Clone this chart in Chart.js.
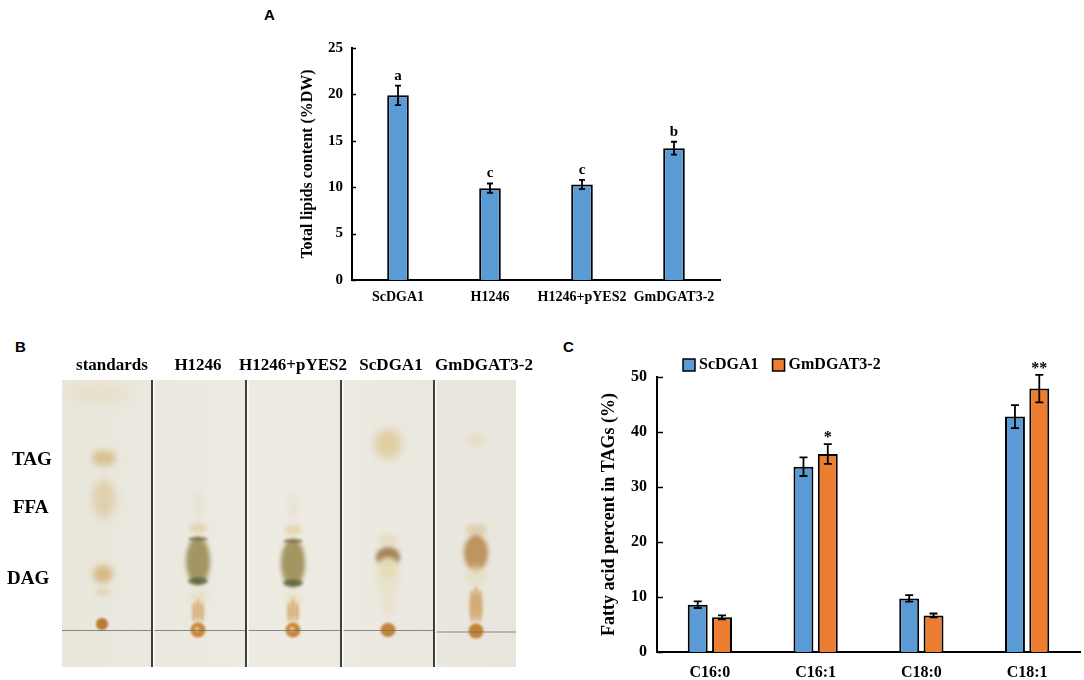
<!DOCTYPE html>
<html>
<head>
<meta charset="utf-8">
<script src="https://cdn.jsdelivr.net/npm/chart.js@4.4.1/dist/chart.umd.min.js"></script>
<style>
  body { margin: 0; background: #fff; width: 1084px; height: 680px; position: relative; overflow: hidden;
         font-family: "Liberation Serif", "Times New Roman", serif; }
  .abs { position: absolute; }
  .panel { font-family: "Liberation Sans", Arial, sans-serif; font-weight: bold; font-size: 15px; line-height: 18px; }
  .lane { font-weight: bold; font-size: 17px; line-height: 20px; transform: translateX(-50%); white-space: nowrap; }
  .band { font-weight: bold; font-size: 19px; line-height: 22px; }
</style>
</head>
<body>
<div class="abs panel" style="left:264px;top:6px">A</div>
<div class="abs panel" style="left:15px;top:338px">B</div>
<div class="abs panel" style="left:563px;top:338px">C</div>

<canvas id="tlc" class="abs" width="570" height="350" style="left:0;top:330px"></canvas>
<div id="tlcText"></div>

<canvas id="lipidChart" class="abs" width="440" height="290" style="left:290px;top:30px"></canvas>
<canvas id="faChart" class="abs" width="494" height="335" style="left:590px;top:345px"></canvas>

<script>
// Panel A: total lipids
const lipidStrains = ['ScDGA1', 'H1246', 'H1246+pYES2', 'GmDGAT3-2'];
const lipidContent = [19.9, 9.9, 10.3, 14.2];
const lipidError = [1.05, 0.5, 0.5, 0.7];
const lipidLetters = ['a', 'c', 'c', 'b'];

// Panel C: fatty acid composition of TAGs
const fattyAcids = ['C16:0', 'C16:1', 'C18:0', 'C18:1'];
const scdga1Percent = [8.6, 33.7, 9.75, 42.8];
const scdga1Error = [0.6, 1.7, 0.6, 2.1];
const gmdgatPercent = [6.3, 36.0, 6.65, 47.9];
const gmdgatError = [0.35, 1.8, 0.35, 2.5];
const gmdgatStars = ['', '*', '', '**'];

// Panel B: TLC plate labels
const tlcLanes = ['standards', 'H1246', 'H1246+pYES2', 'ScDGA1', 'GmDGAT3-2'];
const tlcBands = ['TAG', 'FFA', 'DAG'];

const BLUE = '#5b9bd5';
const ORANGE = '#ed7d31';

Chart.defaults.font.family = '"Liberation Serif", "Times New Roman", serif';
Chart.defaults.font.weight = 'bold';
Chart.defaults.color = '#000';

// error bars + significance marks, drawn from the data through the y scale
const errorBars = {
  id: 'errorBars',
  afterDatasetsDraw(chart, args, opts) {
    const ctx = chart.ctx;
    const y = chart.scales.y;
    chart.data.datasets.forEach((ds, i) => {
      const meta = chart.getDatasetMeta(i);
      meta.data.forEach((bar, j) => {
        const v = ds.data[j], e = ds.errors[j];
        const top = y.getPixelForValue(v + e);
        const bot = y.getPixelForValue(v - e);
        ctx.save();
        ctx.strokeStyle = '#000';
        ctx.lineWidth = 1.8;
        ctx.beginPath();
        ctx.moveTo(bar.x, top); ctx.lineTo(bar.x, bot);
        ctx.moveTo(bar.x - opts.cap, top); ctx.lineTo(bar.x + opts.cap, top);
        ctx.moveTo(bar.x - opts.cap, bot); ctx.lineTo(bar.x + opts.cap, bot);
        ctx.stroke();
        const mark = ds.marks && ds.marks[j];
        if (mark) {
          ctx.fillStyle = '#000';
          ctx.font = opts.markFont;
          ctx.textAlign = 'center';
          ctx.textBaseline = 'alphabetic';
          ctx.fillText(mark, bar.x, top - opts.markGap);
        }
        ctx.restore();
      });
    });
  }
};

// short tick marks pointing into the plot
const innerTicks = {
  id: 'innerTicks',
  afterDraw(chart, args, opts) {
    const ctx = chart.ctx;
    const y = chart.scales.y;
    ctx.save();
    ctx.strokeStyle = '#000';
    ctx.lineWidth = 1.5;
    ctx.beginPath();
    y.ticks.forEach(t => {
      const py = Math.round(y.getPixelForValue(t.value)) + 0.5;
      ctx.moveTo(y.right, py);
      ctx.lineTo(y.right + opts.length, py);
    });
    ctx.stroke();
    ctx.restore();
  }
};

// legend drawn at fixed place above the plot
const boxLegend = {
  id: 'boxLegend',
  afterDraw(chart, args, opts) {
    if (!opts.show) return;
    const ctx = chart.ctx;
    ctx.save();
    ctx.font = 'bold 16px "Liberation Serif", "Times New Roman", serif';
    ctx.textBaseline = 'middle';
    let x = opts.x;
    chart.data.datasets.forEach(ds => {
      ctx.fillStyle = ds.backgroundColor;
      ctx.fillRect(x, opts.y, 12, 12);
      ctx.strokeStyle = '#000';
      ctx.lineWidth = 1.5;
      ctx.strokeRect(x, opts.y, 12, 12);
      ctx.fillStyle = '#000';
      ctx.fillText(ds.label, x + 16, opts.y + 6);
      x += 16 + ctx.measureText(ds.label).width + 14;
    });
    ctx.restore();
  }
};

function yAxis(max, step, tickSize, title, titleSize, titlePad, width, pad) {
  return {
    min: 0, max: max,
    ticks: { stepSize: step, padding: pad, font: { size: tickSize } },
    grid: { display: false, drawTicks: false },
    border: { display: true, color: '#000', width: 2 },
    title: { display: true, text: title, font: { size: titleSize }, padding: { top: titlePad, bottom: 0 } },
    afterFit: s => { s.width = width; }
  };
}

function xAxis(size, pad, height) {
  return {
    ticks: { font: { size: size }, padding: pad, maxRotation: 0, minRotation: 0, autoSkip: false },
    grid: { display: false, drawTicks: false },
    border: { display: true, color: '#000', width: 2 },
    afterFit: s => { s.height = height; }
  };
}

new Chart(document.getElementById('lipidChart'), {
  type: 'bar',
  data: {
    labels: lipidStrains,
    datasets: [{
      label: 'Total lipids',
      data: lipidContent,
      errors: lipidError,
      marks: lipidLetters,
      backgroundColor: BLUE,
      borderColor: '#000',
      borderWidth: 2,
      categoryPercentage: 1,
      barPercentage: 0.235
    }]
  },
  options: {
    responsive: false,
    animation: false,
    layout: { padding: { top: 15, right: 10, left: 0, bottom: 0 } },
    plugins: {
      legend: { display: false },
      tooltip: { enabled: false },
      errorBars: { cap: 3, markGap: 6, markFont: 'bold 15px "Liberation Serif", "Times New Roman", serif' },
      innerTicks: { length: 4 },
      boxLegend: { show: false }
    },
    scales: {
      x: xAxis(14, 9, 40),
      y: yAxis(25, 5, 15, 'Total lipids content (%DW)', 16, 8, 62, 9)
    }
  },
  plugins: [errorBars, innerTicks, boxLegend]
});

new Chart(document.getElementById('faChart'), {
  type: 'bar',
  data: {
    labels: fattyAcids,
    datasets: [{
      label: 'ScDGA1',
      data: scdga1Percent,
      errors: scdga1Error,
      backgroundColor: BLUE,
      borderColor: '#000',
      borderWidth: 2,
      categoryPercentage: 0.46,
      barPercentage: 0.82
    }, {
      label: 'GmDGAT3-2',
      data: gmdgatPercent,
      errors: gmdgatError,
      marks: gmdgatStars,
      backgroundColor: ORANGE,
      borderColor: '#000',
      borderWidth: 2,
      categoryPercentage: 0.46,
      barPercentage: 0.82
    }]
  },
  options: {
    responsive: false,
    animation: false,
    layout: { padding: { top: 32, right: 4, left: 0, bottom: 0 } },
    plugins: {
      legend: { display: false },
      tooltip: { enabled: false },
      errorBars: { cap: 4, markGap: 2, markFont: 'bold 16px "Liberation Serif", "Times New Roman", serif' },
      innerTicks: { length: 6 },
      boxLegend: { show: true, x: 93, y: 14 }
    },
    scales: {
      x: xAxis(16, 11, 28),
      y: yAxis(50, 10, 16, 'Fatty acid percent in TAGs (%)', 18, 9, 67, 10)
    }
  },
  plugins: [errorBars, innerTicks, boxLegend]
});

// ---- Panel B: sketch of the TLC plate photo ----
const laneX = [112, 198, 293, 391, 484];
const bandY = [459, 507, 578];
const bandLeft = [12, 13, 7];
const txt = document.getElementById('tlcText');
tlcLanes.forEach((name, i) => {
  const d = document.createElement('div');
  d.className = 'abs lane';
  d.style.left = laneX[i] + 'px';
  d.style.top = '355px';
  d.textContent = name;
  txt.appendChild(d);
});
tlcBands.forEach((name, i) => {
  const d = document.createElement('div');
  d.className = 'abs band';
  d.style.left = bandLeft[i] + 'px';
  d.style.top = (bandY[i] - 11) + 'px';
  d.textContent = name;
  txt.appendChild(d);
});

const tctx = document.getElementById('tlc').getContext('2d');
tctx.translate(0, -330);

function spot(x, y, rx, ry, rgb, a, blur) {
  tctx.save();
  tctx.filter = 'blur(' + blur + 'px)';
  tctx.fillStyle = 'rgba(' + rgb + ',' + a + ')';
  tctx.beginPath();
  tctx.ellipse(x, y, rx, ry, 0, 0, Math.PI * 2);
  tctx.fill();
  tctx.restore();
}

// plate
const plate = tctx.createLinearGradient(62, 0, 516, 0);
plate.addColorStop(0, '#e9e6dc');
plate.addColorStop(0.5, '#eeebe3');
plate.addColorStop(1, '#e8e5dc');
tctx.fillStyle = plate;
tctx.fillRect(62, 380, 454, 287);

// standards lane
spot(100, 393, 32, 9, '225,205,150', 0.3, 6);
spot(104, 458, 12, 8, '205,170,95', 0.6, 3);
spot(104, 499, 11, 20, '210,180,110', 0.45, 4);
spot(103, 574, 10, 9, '205,160,85', 0.65, 3);
spot(103, 592, 8, 4, '215,185,120', 0.35, 2);
spot(102, 624, 6, 6, '185,115,40', 0.95, 1);

// H1246 and H1246+pYES2 lanes
[[198, 0], [293, 2]].forEach(([x, dy]) => {
  spot(x, 505 + dy, 4, 14, '215,200,150', 0.25, 3);
  spot(x, 528 + dy, 9, 5, '215,190,120', 0.45, 2);
  spot(x, 561 + dy, 12, 24, '150,135,75', 0.85, 2);
  spot(x, 581 + dy, 10, 3.5, '85,95,55', 0.8, 1.5);
  spot(x, 539 + dy, 10, 2, '110,95,50', 0.6, 1);
  spot(x, 596 + dy, 9, 6, '225,215,170', 0.5, 3);
  spot(x - 4, 612, 2, 10, '205,145,65', 0.65, 1.5);
  spot(x, 610, 2, 12, '205,145,65', 0.65, 1.5);
  spot(x + 4, 612, 2, 10, '205,145,65', 0.65, 1.5);
  spot(x, 630, 7.5, 7.5, '200,130,45', 0.95, 1);
  spot(x - 1, 629, 2.5, 2.5, '235,215,180', 0.7, 1);
});

// ScDGA1 lane
spot(388, 444, 13, 15, '215,180,100', 0.5, 4);
spot(388, 540, 10, 6, '220,200,140', 0.35, 2);
spot(388, 557, 12, 10, '140,100,40', 0.75, 2);
spot(388, 567, 11, 10, '232,225,190', 0.9, 2);
spot(388, 580, 11, 16, '225,215,160', 0.35, 3);
spot(388, 605, 5, 12, '225,210,170', 0.3, 3);
spot(388, 630, 7.5, 7, '195,125,45', 0.95, 1);

// GmDGAT3-2 lane
spot(476, 440, 8, 6, '220,200,140', 0.35, 3);
spot(476, 530, 11, 6, '215,185,115', 0.45, 2);
spot(476, 553, 12, 18, '175,120,55', 0.75, 2);
spot(476, 575, 10, 10, '228,220,180', 0.6, 3);
spot(472, 606, 2.5, 16, '200,140,60', 0.65, 1.5);
spot(476, 604, 2.5, 18, '200,140,60', 0.65, 1.5);
spot(480, 606, 2.5, 16, '200,140,60', 0.65, 1.5);
spot(476, 631, 7.5, 7.5, '195,125,45', 0.95, 1);

// pencil start line
tctx.strokeStyle = 'rgba(110,110,110,0.8)';
tctx.lineWidth = 1;
tctx.beginPath();
tctx.moveTo(62, 630.5); tctx.lineTo(434, 630.5);
tctx.moveTo(434, 632); tctx.lineTo(516, 632);
tctx.stroke();

// plate dividers
[152, 246, 341, 434].forEach(x => {
  tctx.fillStyle = '#3e3e3e';
  tctx.fillRect(x - 1, 380, 2, 287);
  tctx.fillStyle = '#fbfbf8';
  tctx.fillRect(x + 1, 380, 1.5, 287);
});
</script>
</body>
</html>
